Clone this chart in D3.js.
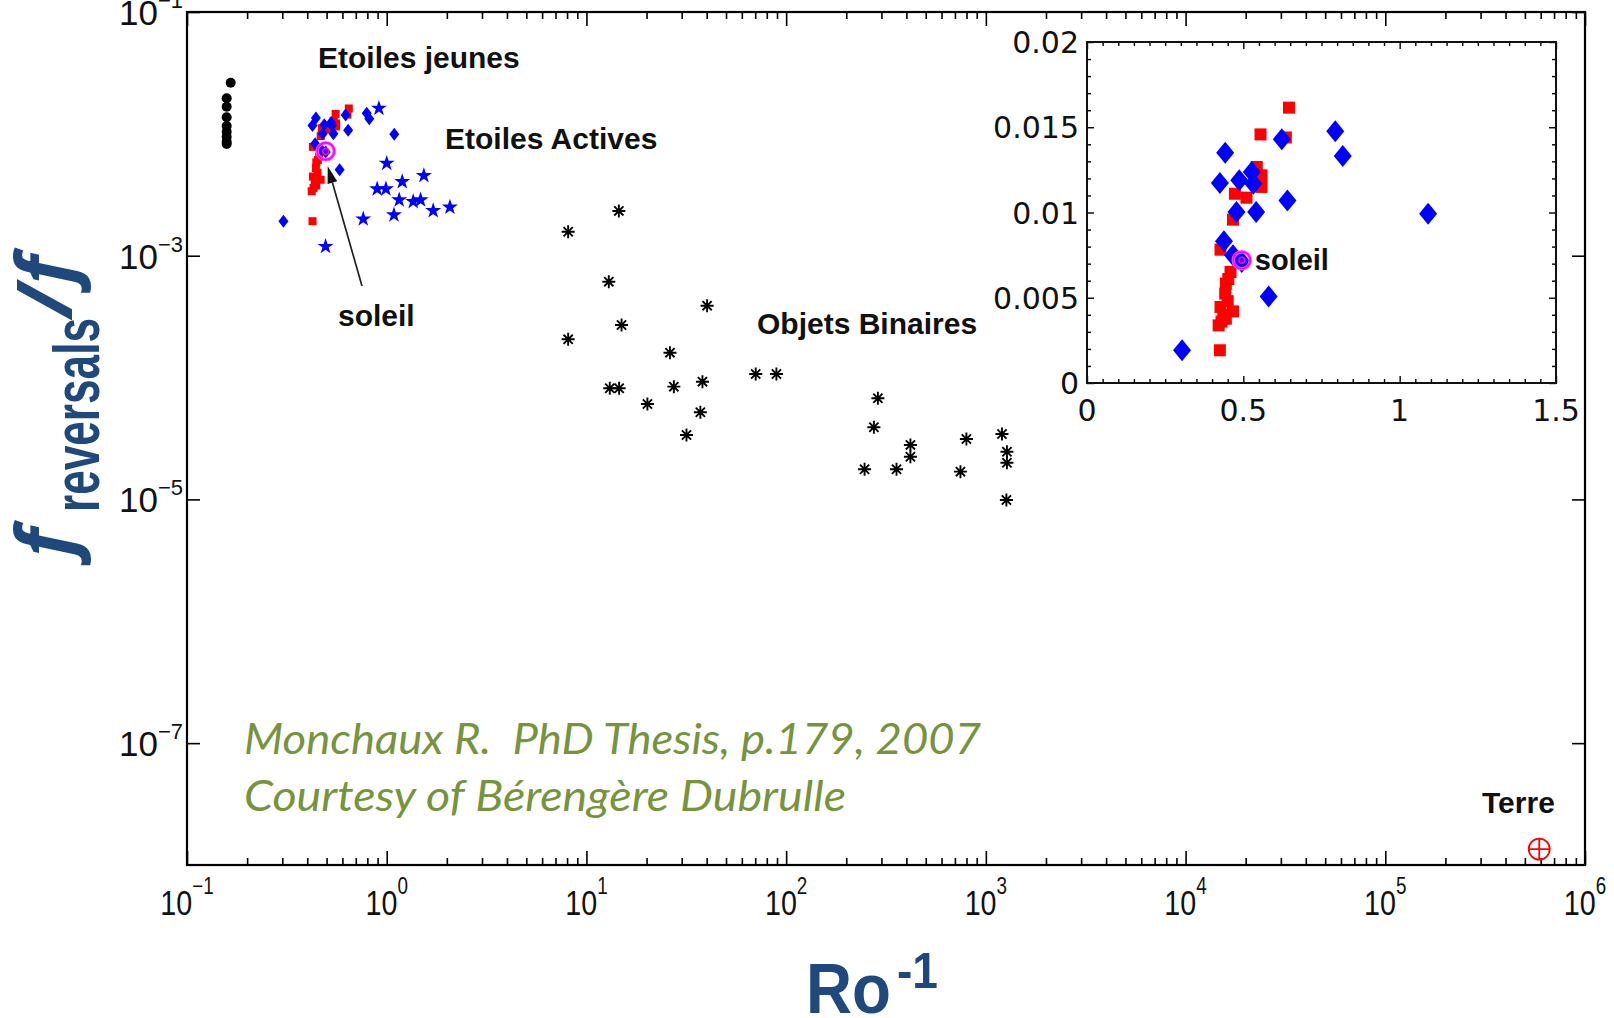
<!DOCTYPE html>
<html>
<head>
<meta charset="utf-8">
<script src="https://cdn.jsdelivr.net/npm/d3@7"></script>
<style>
  html, body { margin: 0; padding: 0; background: #fff; }
  svg { display: block; }
  .pre { white-space: pre; }
</style>
</head>
<body>
<svg id="chart" width="1614" height="1018"></svg>
<script>
// ---- data: [Ro^-1, f_reversals / f] ----
const youngStars = [
  [0.1655, 0.02629], [0.158, 0.01957], [0.158, 0.01671], [0.158, 0.01368],
  [0.158, 0.01160], [0.158, 0.01041], [0.158, 0.00948], [0.158, 0.00863],
  [0.158, 0.00826]
];
const redSquares = [
  [0.646, 0.01615], [0.555, 0.01458], [0.636, 0.0144], [0.543, 0.01267],
  [0.558, 0.01218], [0.558, 0.0115], [0.473, 0.0111], [0.510, 0.01087],
  [0.467, 0.00958], [0.427, 0.00782], [0.459, 0.00651], [0.452, 0.0061],
  [0.444, 0.00583], [0.442, 0.00524], [0.450, 0.0048], [0.427, 0.00446],
  [0.467, 0.0042], [0.436, 0.0040], [0.444, 0.00377], [0.430, 0.0036],
  [0.421, 0.00338], [0.425, 0.00192]
];
const blueDiamonds = [
  [0.304, 0.00192], [0.442, 0.0135], [0.425, 0.01173], [0.487, 0.01189],
  [0.527, 0.01238], [0.532, 0.01169], [0.478, 0.01003], [0.541, 0.01003],
  [0.438, 0.00831], [0.467, 0.00749], [0.581, 0.00508], [0.623, 0.01429],
  [0.641, 0.01071], [0.794, 0.01476], [0.818, 0.01331], [1.091, 0.00993],
  [0.495, 0.0071]
];
const activeStars = [
  [0.914, 0.0162], [1.00, 0.00573], [1.196, 0.00405], [1.535, 0.00454],
  [0.896, 0.00353], [0.991, 0.00353], [1.155, 0.00287], [1.357, 0.00278],
  [1.478, 0.00287], [1.709, 0.00234], [2.072, 0.0025], [1.087, 0.00216],
  [0.763, 0.0020], [0.494, 0.00119]
];
const binaries = [
  [8.10, 0.001574], [14.53, 0.00233], [12.94, 0.000612], [14.99, 0.000270],
  [8.10, 0.000206], [40.2, 0.000389], [26.2, 0.000160], [13.09, 8.17e-5],
  [14.58, 8.17e-5], [20.2, 6.07e-5], [27.4, 8.42e-5], [38.1, 9.25e-5],
  [37.2, 5.19e-5], [31.7, 3.38e-5], [70.4, 1.07e-4], [89.4, 1.07e-4],
  [288, 6.76e-5], [275, 3.91e-5], [419, 2.80e-5], [419, 2.24e-5],
  [247, 1.77e-5], [357, 1.77e-5], [799, 3.13e-5], [746, 1.69e-5],
  [1204, 3.44e-5], [1275, 2.46e-5], [1275, 2.0e-5], [1267, 9.9e-6]
];
const sun = [0.495, 0.0072];
const earth = [5.9e5, 1.35e-8];

// ---- tick labels ----
const xTickExponents = [-1, 0, 1, 2, 3, 4, 5, 6];
const yTickExponents = [-7, -5, -3, -1];
const insetXTicks = [0, 0.5, 1, 1.5];
const insetXTickLabels = ["0", "0.5", "1", "1.5"];
const insetYTicks = [0, 0.005, 0.01, 0.015, 0.02];
const insetYTickLabels = ["0", "0.005", "0.01", "0.015", "0.02"];

// ---- layout ----
const svg = d3.select("#chart");
const M = { left: 187, right: 1585, top: 12, bottom: 865 };
const I = { left: 1087, right: 1556, top: 42, bottom: 383 };

const x = d3.scaleLog().domain([1e-1, 1e6]).range([M.left, M.right]);
const y = d3.scaleLog().domain([1e-8, 1e-1]).range([M.bottom, M.top]);
const ix = d3.scaleLinear().domain([0, 1.5]).range([I.left, I.right]);
const iy = d3.scaleLinear().domain([0, 0.02]).range([I.bottom, I.top]);

const pow10 = e => Math.pow(10, e);
const fmtExp = e => (e < 0 ? "\u2212" + (-e) : String(e));

// tick marks drawn with d3 axes; labels are built separately for superscripts
function ticks(axis, tx, ty, width) {
  const g = svg.append("g").attr("transform", `translate(${tx},${ty})`).call(axis);
  g.select(".domain").remove();
  g.selectAll(".tick text").remove();
  g.selectAll(".tick line").attr("stroke", "#000").attr("stroke-width", width || 1.6);
  return g;
}

// ---- main log-log frame ----
const xMajor = xTickExponents.map(pow10);
const xMinor = [];
for (let e = -1; e < 6; e++) for (let k = 2; k <= 9; k++) xMinor.push(k * pow10(e));
const yMajor = yTickExponents.map(pow10);

ticks(d3.axisBottom(x).tickValues(xMajor).tickSize(-14), 0, M.bottom);
ticks(d3.axisBottom(x).tickValues(xMinor).tickSize(-7), 0, M.bottom);
ticks(d3.axisTop(x).tickValues(xMajor).tickSize(-14), 0, M.top);
ticks(d3.axisTop(x).tickValues(xMinor).tickSize(-7), 0, M.top);
ticks(d3.axisLeft(y).tickValues(yMajor).tickSize(-13), M.left, 0);
ticks(d3.axisRight(y).tickValues(yMajor).tickSize(-13), M.right, 0);

svg.append("rect")
  .attr("x", M.left).attr("y", M.top)
  .attr("width", M.right - M.left).attr("height", M.bottom - M.top)
  .attr("fill", "none").attr("stroke", "#000").attr("stroke-width", 2.2);

// x tick labels: 10^n
const xLab = svg.append("g").selectAll("g").data(xTickExponents).join("g")
  .attr("transform", e => `translate(${x(pow10(e))},915) scale(0.82,1)`)
  .append("text")
  .attr("text-anchor", "middle")
  .attr("font-family", "'Liberation Sans', Arial, sans-serif")
  .attr("font-size", 35).attr("fill", "#111");
xLab.append("tspan").text("10");
xLab.append("tspan").attr("dy", -21).attr("font-size", 23).text(fmtExp);

// y tick labels: 10^n
const yLab = svg.append("g").selectAll("text").data(yTickExponents).join("text")
  .attr("x", 183).attr("y", e => y(pow10(e)) + 13)
  .attr("text-anchor", "end")
  .attr("font-family", "'Liberation Sans', Arial, sans-serif")
  .attr("font-size", 35).attr("fill", "#111");
yLab.append("tspan").text("10");
yLab.append("tspan").attr("dy", -17).attr("font-size", 22).text(fmtExp);

// ---- marker shapes ----
const diamond = (w, h) => `M0,${-h / 2}L${w / 2},0L0,${h / 2}L${-w / 2},0Z`;
const asterisk = r => {
  const a = r * 0.7071;
  return `M0,${-r}V${r}M${-r},0H${r}M${-a},${-a}L${a},${a}M${-a},${a}L${a},${-a}`;
};
const cross = r => `M${-r},0H${r}M0,${-r}V${r}`;

// ---- main data ----
const main = svg.append("g");

main.selectAll("circle.young").data(youngStars).join("circle")
  .attr("cx", d => x(d[0])).attr("cy", d => y(d[1])).attr("r", 5)
  .attr("fill", "#000");

main.selectAll("rect.red").data(redSquares).join("rect")
  .attr("x", d => x(d[0]) - 4).attr("y", d => y(d[1]) - 4)
  .attr("width", 8).attr("height", 8).attr("fill", "#ff0000");

main.selectAll("path.diam").data(blueDiamonds).join("path")
  .attr("transform", d => `translate(${x(d[0])},${y(d[1])})`)
  .attr("d", diamond(10, 13)).attr("fill", "#0000ff");

main.selectAll("path.star").data(activeStars).join("path")
  .attr("transform", d => `translate(${x(d[0])},${y(d[1])})`)
  .attr("d", d3.symbol(d3.symbolStar, 80)()).attr("fill", "#0000ff");

main.selectAll("path.bin").data(binaries).join("path")
  .attr("transform", d => `translate(${x(d[0])},${y(d[1])})`)
  .attr("d", asterisk(6.5)).attr("stroke", "#000").attr("stroke-width", 1.9)
  .attr("fill", "none");

function drawSun(g, px, py) {
  g.append("circle").attr("cx", px).attr("cy", py).attr("r", 8.5)
    .attr("fill", "none").attr("stroke", "#ff66ff").attr("stroke-width", 3.5);
  g.append("circle").attr("cx", px).attr("cy", py).attr("r", 8.5)
    .attr("fill", "none").attr("stroke", "#ff00ff").attr("stroke-width", 1.8);
  g.append("circle").attr("cx", px).attr("cy", py).attr("r", 3)
    .attr("fill", "#3a00d0").attr("stroke", "#ff00ff").attr("stroke-width", 1.5);
}
drawSun(main, x(sun[0]), y(sun[1]));

// Earth
const ex = x(earth[0]), ey = y(earth[1]);
main.append("circle").attr("cx", ex).attr("cy", ey).attr("r", 10.5)
  .attr("fill", "none").attr("stroke", "#ff0000").attr("stroke-width", 1.8);
main.append("path").attr("transform", `translate(${ex},${ey})`)
  .attr("d", cross(10.5)).attr("stroke", "#ff0000").attr("stroke-width", 1.8);

// ---- annotations ----
const lbl = (t, px, py) => svg.append("text").attr("x", px).attr("y", py)
  .attr("font-family", "'Liberation Sans', Arial, sans-serif")
  .attr("font-weight", 700).attr("font-size", 30).attr("fill", "#111").text(t);

lbl("Etoiles jeunes", 318, 68);
lbl("Etoiles Actives", 445, 149);
lbl("soleil", 338, 326);
lbl("Objets Binaires", 757, 334);
lbl("Terre", 1482, 813);

// arrow from the "soleil" label to the sun marker
{
  const hx = x(sun[0]) + 2, hy = y(sun[1]) + 15;
  const tx = 362, ty = 286;
  const ang = Math.atan2(hy - ty, hx - tx);
  const L = 17, Wd = 5;
  const bx = hx - L * Math.cos(ang), by = hy - L * Math.sin(ang);
  svg.append("line").attr("x1", tx).attr("y1", ty).attr("x2", bx).attr("y2", by)
    .attr("stroke", "#222").attr("stroke-width", 1.7);
  svg.append("path")
    .attr("d", `M${hx},${hy}L${bx + Wd * Math.sin(ang)},${by - Wd * Math.cos(ang)}` +
               `L${bx - Wd * Math.sin(ang)},${by + Wd * Math.cos(ang)}Z`)
    .attr("fill", "#111");
}

// ---- inset (linear zoom on the solar-type stars) ----
const inset = svg.append("g");
inset.append("rect").attr("x", I.left).attr("y", I.top)
  .attr("width", I.right - I.left).attr("height", I.bottom - I.top)
  .attr("fill", "#fff");

const ixMinor = d3.range(0, 1.5001, 0.05).filter(v => Math.abs(v * 2 - Math.round(v * 2)) > 1e-6);
const iyMinor = d3.range(0, 0.02001, 0.001).filter(v => Math.abs(v / 0.005 - Math.round(v / 0.005)) > 1e-6);

ticks(d3.axisBottom(ix).tickValues(insetXTicks).tickSize(-7), 0, I.bottom, 1.4);
ticks(d3.axisBottom(ix).tickValues(ixMinor).tickSize(-4), 0, I.bottom, 1.4);
ticks(d3.axisTop(ix).tickValues(insetXTicks).tickSize(-7), 0, I.top, 1.4);
ticks(d3.axisTop(ix).tickValues(ixMinor).tickSize(-4), 0, I.top, 1.4);
ticks(d3.axisLeft(iy).tickValues(insetYTicks).tickSize(-7), I.left, 0, 1.4);
ticks(d3.axisLeft(iy).tickValues(iyMinor).tickSize(-4), I.left, 0, 1.4);
ticks(d3.axisRight(iy).tickValues(insetYTicks).tickSize(-7), I.right, 0, 1.4);
ticks(d3.axisRight(iy).tickValues(iyMinor).tickSize(-4), I.right, 0, 1.4);

svg.append("rect").attr("x", I.left).attr("y", I.top)
  .attr("width", I.right - I.left).attr("height", I.bottom - I.top)
  .attr("fill", "none").attr("stroke", "#111").attr("stroke-width", 2);

svg.append("g").selectAll("text").data(insetXTicks).join("text")
  .attr("x", d => ix(d)).attr("y", 421).attr("text-anchor", "middle")
  .attr("font-family", "'DejaVu Sans', sans-serif").attr("font-size", 30)
  .attr("fill", "#111").text((d, i) => insetXTickLabels[i]);
svg.append("g").selectAll("text").data(insetYTicks).join("text")
  .attr("x", 1079).attr("y", d => iy(d) + 11).attr("text-anchor", "end")
  .attr("font-family", "'DejaVu Sans', sans-serif").attr("font-size", 30)
  .attr("fill", "#111").text((d, i) => insetYTickLabels[i]);

const insetData = svg.append("g");
insetData.selectAll("rect").data(redSquares).join("rect")
  .attr("x", d => ix(d[0]) - 6).attr("y", d => iy(d[1]) - 6)
  .attr("width", 12).attr("height", 12).attr("fill", "#ff0000");
insetData.selectAll("path").data(blueDiamonds).join("path")
  .attr("transform", d => `translate(${ix(d[0])},${iy(d[1])})`)
  .attr("d", diamond(18, 22)).attr("fill", "#0000ff");
drawSun(insetData, ix(sun[0]), iy(sun[1]));
svg.append("text").attr("x", ix(sun[0]) + 13).attr("y", iy(sun[1]) + 10)
  .attr("font-family", "'Liberation Sans', Arial, sans-serif")
  .attr("font-weight", 700).attr("font-size", 29).attr("fill", "#111").text("soleil");

// ---- axis titles ----
const navy = "#1F497D";
const yTitle = svg.append("g").attr("transform", "translate(0,557) rotate(-90)").attr("fill", navy);
yTitle.append("text").attr("x", 0).attr("y", 72)
  .attr("font-family", "'Open Sans', 'Noto Sans', sans-serif")
  .attr("font-weight", 700).attr("font-style", "italic").attr("font-size", 77).text("f");
yTitle.append("text").attr("x", 45).attr("y", 99)
  .attr("font-family", "'Liberation Sans Narrow', 'Liberation Sans', sans-serif")
  .attr("font-weight", 700).attr("font-size", 64)
  .attr("textLength", 194).attr("lengthAdjust", "spacingAndGlyphs").text("reversals");
yTitle.append("text").attr("x", 240).attr("y", 72)
  .attr("font-family", "'Open Sans', 'Noto Sans', sans-serif")
  .attr("font-weight", 700).attr("font-style", "italic").attr("font-size", 77).text("/f");

svg.append("text").attr("x", 806).attr("y", 1013)
  .attr("font-family", "'Liberation Sans Narrow', 'Liberation Sans', sans-serif")
  .attr("font-weight", 700).attr("font-size", 71).attr("fill", navy)
  .attr("textLength", 85).attr("lengthAdjust", "spacingAndGlyphs").text("Ro");
svg.append("text").attr("x", 897).attr("y", 988)
  .attr("font-family", "'Liberation Sans Narrow', 'Liberation Sans', sans-serif")
  .attr("font-weight", 700).attr("font-size", 50).attr("fill", navy)
  .attr("textLength", 41).attr("lengthAdjust", "spacingAndGlyphs").text("-1");

// ---- source credit ----
const olive = "#77933C";
svg.append("text").attr("class", "pre").attr("x", 244).attr("y", 754)
  .attr("font-family", "Lato, 'Open Sans', sans-serif").attr("font-style", "italic")
  .attr("font-size", 43).attr("fill", olive)
  .attr("textLength", 737).attr("lengthAdjust", "spacingAndGlyphs")
  .text("Monchaux R.  PhD Thesis, p.179, 2007");
svg.append("text").attr("x", 244).attr("y", 811)
  .attr("font-family", "Lato, 'Open Sans', sans-serif").attr("font-style", "italic")
  .attr("font-size", 43).attr("fill", olive)
  .attr("textLength", 602).attr("lengthAdjust", "spacingAndGlyphs")
  .text("Courtesy of Bérengère Dubrulle");
</script>
</body>
</html>
